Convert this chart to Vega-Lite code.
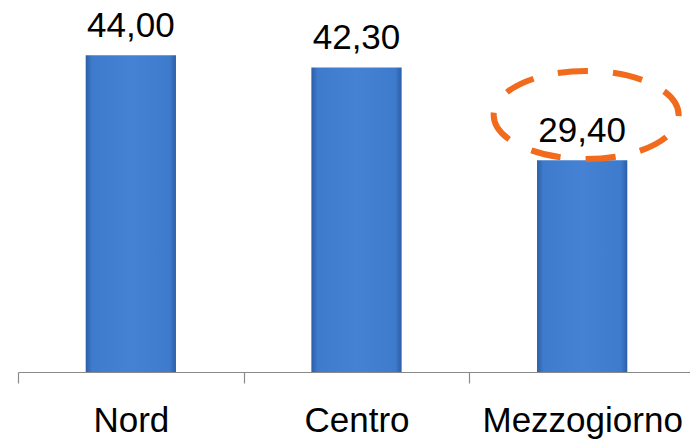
{
  "$schema": "https://vega.github.io/schema/vega-lite/v6.json",
  "autosize": {"type": "none"},
  "width": 672,
  "height": 372,
  "padding": {"left": 18, "top": 0, "right": 0, "bottom": 67},
  "background": "white",
  "config": {
    "view": {"stroke": null},
    "locale": {"number": {"decimal": ",", "thousands": ".", "grouping": [3], "currency": ["€", ""]}},
    "font": "Liberation Sans"
  },
  "datasets": {
    "barre": [
      {"area": "Nord", "valore": 44.0},
      {"area": "Centro", "valore": 42.3},
      {"area": "Mezzogiorno", "valore": 29.4}
    ],
    "evidenza": [
      {"area": "Mezzogiorno", "valore": 35.7}
    ]
  },
  "layer": [
    {
      "data": {"name": "barre"},
      "mark": {
        "type": "bar",
        "width": {"band": 0.4},
        "color": {
          "gradient": "linear", "x1": 0, "x2": 1, "y1": 0, "y2": 0,
          "stops": [
            {"offset": 0, "color": "#2c5ea6"},
            {"offset": 0.07, "color": "#3e7bcd"},
            {"offset": 0.5, "color": "#4582d4"},
            {"offset": 0.93, "color": "#3e7bcd"},
            {"offset": 1, "color": "#2c5ea6"}
          ]
        }
      },
      "encoding": {
        "x": {
          "field": "area", "type": "nominal", "sort": null,
          "scale": {"range": [0, 677], "paddingInner": 0, "paddingOuter": 0},
          "axis": {
            "title": null, "labelAngle": 0, "labelFontSize": 35, "labelColor": "#000000",
            "labelFont": "Liberation Sans", "labelBaseline": "alphabetic", "labelPadding": 48,
            "labelLimit": 0, "labelOverlap": false,
            "domainColor": "#8a8a8a", "tickColor": "#8a8a8a", "tickSize": 11, "tickBand": "extent",
            "domainWidth": 1.2, "tickWidth": 1.2, "grid": false
          }
        },
        "y": {
          "field": "valore", "type": "quantitative",
          "scale": {"domain": [0, 51.67], "nice": false, "zero": true},
          "axis": null
        }
      }
    },
    {
      "data": {"name": "barre"},
      "mark": {"type": "text", "fontSize": 35, "font": "Liberation Sans", "color": "#000000", "baseline": "alphabetic", "dy": -18},
      "encoding": {
        "x": {"field": "area", "type": "nominal", "sort": null},
        "y": {"field": "valore", "type": "quantitative"},
        "text": {"field": "valore", "type": "quantitative", "format": ".2f"}
      }
    },
    {
      "data": {"name": "evidenza"},
      "mark": {
        "type": "point", "filled": false,
        "shape": "M -1 0 A 1 0.476 0 1 0 1 0 A 1 0.476 0 1 0 -1 0 Z",
        "size": 34225, "stroke": "#f26a1b", "strokeWidth": 6,
        "strokeDash": [30, 25], "opacity": 1, "xOffset": 4
      },
      "encoding": {
        "x": {"field": "area", "type": "nominal", "sort": null},
        "y": {"field": "valore", "type": "quantitative"}
      }
    }
  ]
}
